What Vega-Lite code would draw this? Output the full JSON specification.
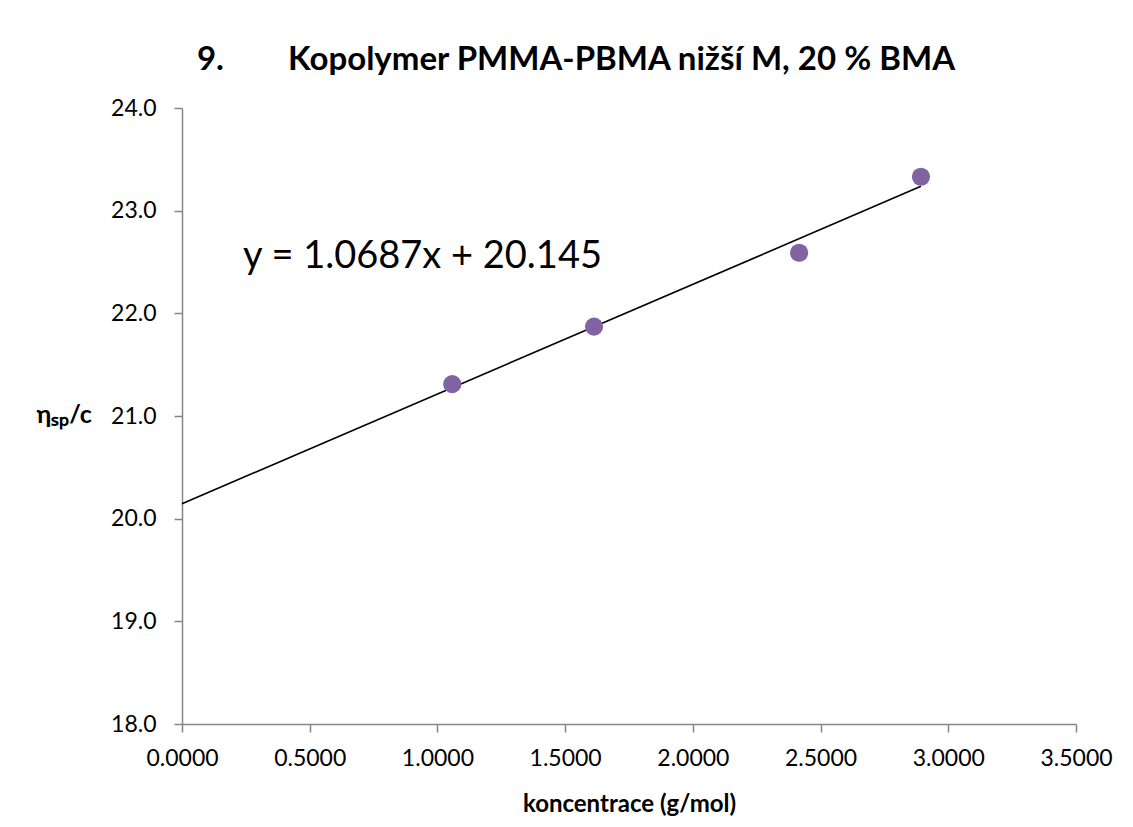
{
  "$schema": "https://vega.github.io/schema/vega-lite/v6.json",
  "autosize": "none",
  "width": 894,
  "height": 616,
  "padding": {"left": 182, "top": 108, "right": 57, "bottom": 103},
  "background": "white",
  "config": {"view": {"stroke": null}, "font": "Lato"},
  "title": {
    "text": "9.\u00a0\u00a0\u00a0\u00a0\u00a0\u00a0\u00a0 Kopolymer PMMA-PBMA nižší M, 20 % BMA",
    "font": "Lato",
    "fontSize": 33,
    "fontWeight": "bold",
    "color": "black",
    "anchor": "middle",
    "dx": -53,
    "offset": 20
  },
  "datasets": {
    "points": [
      {"c": 1.058, "eta": 21.31},
      {"c": 1.613, "eta": 21.87},
      {"c": 2.416, "eta": 22.59},
      {"c": 2.893, "eta": 23.33}
    ],
    "trend": [
      {"c": 0, "eta": 20.145},
      {"c": 2.893, "eta": 23.237}
    ],
    "label": [
      {"c": 0.239, "eta": 22.55, "text": "y = 1.0687x + 20.145"}
    ]
  },
  "layer": [
    {
      "data": {"name": "trend"},
      "mark": {"type": "line", "color": "black", "strokeWidth": 1.6},
      "encoding": {
        "x": {
          "field": "c", "type": "quantitative",
          "scale": {"domain": [0, 3.5], "nice": false, "zero": false},
          "axis": {
            "title": "koncentrace (g/mol)",
            "titleFont": "Lato", "titleFontSize": 24, "titleFontWeight": "bold", "titleColor": "black",
            "titlePadding": 22,
            "values": [0, 0.5, 1, 1.5, 2, 2.5, 3, 3.5],
            "format": ".4f",
            "labelFont": "Lato", "labelFontSize": 23, "labelColor": "black",
            "labelPadding": 15,
            "labelFlush": false,
            "labelOverlap": false,
            "grid": false,
            "domainColor": "#868686", "domainWidth": 1.5,
            "tickColor": "#868686", "tickSize": 8, "tickWidth": 1.5
          }
        },
        "y": {
          "field": "eta", "type": "quantitative",
          "scale": {"domain": [18, 24], "nice": false, "zero": false},
          "axis": {
            "title": "ηₛₚ/c",
            "titleFont": "Lato", "titleFontSize": 25, "titleFontWeight": "bold", "titleColor": "black",
            "titleAngle": 0, "titleAlign": "left", "titleBaseline": "middle",
            "titleX": -146, "titleY": 306,
            "values": [18, 19, 20, 21, 22, 23, 24],
            "format": ".1f",
            "labelFont": "Lato", "labelFontSize": 23, "labelColor": "black",
            "labelPadding": 18,
            "labelFlush": false,
            "labelOverlap": false,
            "grid": false,
            "domainColor": "#868686", "domainWidth": 1.5,
            "tickColor": "#868686", "tickSize": 8, "tickWidth": 1.5
          }
        }
      }
    },
    {
      "data": {"name": "points"},
      "mark": {"type": "circle", "color": "#8064A2", "opacity": 1, "size": 330},
      "encoding": {
        "x": {"field": "c", "type": "quantitative"},
        "y": {"field": "eta", "type": "quantitative"}
      }
    },
    {
      "data": {"name": "label"},
      "mark": {"type": "text", "align": "left", "baseline": "middle", "fontSize": 38, "font": "Lato", "color": "black"},
      "encoding": {
        "x": {"field": "c", "type": "quantitative"},
        "y": {"field": "eta", "type": "quantitative"},
        "text": {"field": "text"}
      }
    }
  ]
}
